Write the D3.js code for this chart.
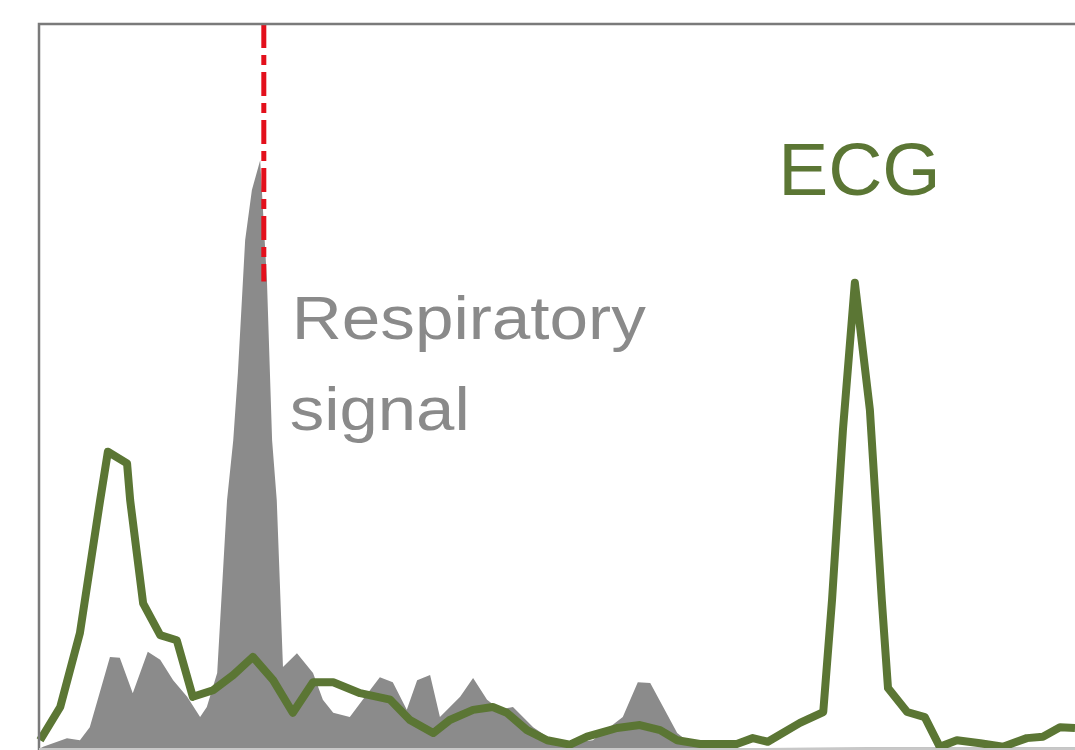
<!DOCTYPE html>
<html>
<head>
<meta charset="utf-8">
<script src="https://cdn.jsdelivr.net/npm/d3@7"></script>
<style>
  body { margin: 0; background: #fff; }
  svg { display: block; }
</style>
</head>
<body>
<svg id="chart" width="1075" height="750"></svg>
<script>

// frequency (Hz) and normalised power
const resp_freq = [0, 0.008, 0.054, 0.079, 0.098, 0.137, 0.156, 0.181, 0.210, 0.234, 0.259, 0.286,
    0.311, 0.324, 0.344, 0.363, 0.375, 0.384, 0.398, 0.411, 0.427, 0.440, 0.450, 0.459, 0.471,
    0.498, 0.529, 0.548, 0.568, 0.600, 0.625, 0.658, 0.683, 0.710, 0.730, 0.755, 0.774, 0.813,
    0.838, 0.865, 0.890, 0.915, 0.954, 0.981, 1.019, 1.069, 1.127, 1.156, 1.180, 1.205, 1.232,
    1.257, 1.295, 1.6, 2.0]
const resp_power = [0, 0.003, 0.015, 0.012, 0.030, 0.127, 0.126, 0.077, 0.134, 0.123, 0.095, 0.072,
    0.044, 0.058, 0.105, 0.343, 0.426, 0.519, 0.702, 0.771, 0.812, 0.647, 0.426, 0.343, 0.113,
    0.132, 0.105, 0.068, 0.050, 0.044, 0.068, 0.099, 0.092, 0.054, 0.095, 0.102, 0.044, 0.072,
    0.098, 0.068, 0.054, 0.058, 0.030, 0.017, 0.008, 0.012, 0.044, 0.092, 0.091, 0.058, 0.022,
    0.008, 0.001, 0.002, 0.002]

const ecg_freq = [0.002, 0.041, 0.079, 0.118, 0.133, 0.170, 0.176, 0.201, 0.234, 0.266, 0.297,
    0.336, 0.375, 0.413, 0.452, 0.490, 0.529, 0.568, 0.620, 0.678, 0.716, 0.761, 0.793, 0.838,
    0.876, 0.903, 0.942, 0.981, 1.025, 1.058, 1.116, 1.160, 1.199, 1.232, 1.276, 1.347, 1.378,
    1.407, 1.469, 1.514, 1.531, 1.552, 1.575, 1.604, 1.627, 1.639, 1.676, 1.710, 1.739, 1.772,
    1.817, 1.861, 1.907, 1.938, 1.971, 2.0]
const ecg_power = [0.012, 0.058, 0.160, 0.343, 0.410, 0.394, 0.343, 0.201, 0.157, 0.150, 0.072,
    0.081, 0.102, 0.127, 0.095, 0.050, 0.092, 0.092, 0.077, 0.068, 0.040, 0.022, 0.040, 0.054,
    0.058, 0.050, 0.026, 0.012, 0.006, 0.017, 0.029, 0.033, 0.026, 0.012, 0.007, 0.007, 0.015,
    0.010, 0.036, 0.051, 0.206, 0.440, 0.643, 0.468, 0.206, 0.084, 0.051, 0.044, 0.003, 0.012,
    0.008, 0.003, 0.015, 0.017, 0.030, 0.029]

const resp_peak = 0.434   // dashed marker
const labels = {resp: ['Respiratory', 'signal'], ecg: 'ECG'}

const fig_margin = {top: 24, right: 0, bottom: 1, left: 39};
const fig_width = 1075 - fig_margin.left - fig_margin.right;
const fig_height = 750 - fig_margin.top - fig_margin.bottom;

const xscale = d3.scaleLinear()
    .range([0, fig_width])
    .domain([0, 2]);
const yscale = d3.scaleLinear()
    .range([fig_height, 0])
    .domain([0, 1]);

const svg = d3.select('#chart')
const fig = svg.append('g')
    .attr('transform', `translate(${fig_margin.left},${fig_margin.top})`)

const resp_data = resp_freq.map((f, i) => ({x: f, y: resp_power[i]}))
const ecg_data = ecg_freq.map((f, i) => ({x: f, y: ecg_power[i]}))

const makearea = d3.area()
    .x(d => xscale(d.x))
    .y0(yscale(0))
    .y1(d => yscale(d.y));

const makeline = d3.line()
    .x(d => xscale(d.x))
    .y(d => yscale(d.y));

fig.append('path')
    .datum(resp_data)
    .attr('fill', '#8b8b8b')
    .attr('d', makearea);

// red marker at the respiratory peak, stops above the label
fig.append('line')
    .attr('x1', xscale(resp_peak)).attr('x2', xscale(resp_peak))
    .attr('y1', 0).attr('y2', yscale(0.645))
    .attr('stroke', '#e3101c')
    .attr('stroke-width', 5)
    .attr('stroke-dasharray', '24,7,10,7');

fig.append('path')
    .datum(ecg_data)
    .attr('fill', 'none')
    .attr('stroke', '#5b7634')
    .attr('stroke-width', 8)
    .attr('stroke-linejoin', 'round')
    .attr('d', makeline);

// frame: only left and top are visible
fig.append('path')
    .attr('d', `M0,${fig_height + 2}V0H${fig_width + 2}`)
    .attr('fill', 'none')
    .attr('stroke', '#7a7a7a')
    .attr('stroke-width', 2.5);

fig.append('line')
    .attr('x1', 0).attr('x2', fig_width)
    .attr('y1', fig_height).attr('y2', fig_height)
    .attr('stroke', '#c8c8c8')
    .attr('stroke-width', 2);

const resp_text = fig.append('text')
    .attr('font-family', 'Liberation Sans, Arial, sans-serif')
    .attr('font-size', 62)
    .attr('fill', '#8a8a8a')
resp_text.append('tspan')
    .attr('x', xscale(0.488)).attr('y', 315)
    .attr('textLength', 354).attr('lengthAdjust', 'spacingAndGlyphs')
    .text(labels.resp[0])
resp_text.append('tspan')
    .attr('x', xscale(0.484)).attr('y', 406)
    .attr('textLength', 180).attr('lengthAdjust', 'spacingAndGlyphs')
    .text(labels.resp[1])

fig.append('text')
    .attr('x', xscale(1.427)).attr('y', 171)
    .attr('font-family', 'Liberation Sans, Arial, sans-serif')
    .attr('font-size', 75)
    .attr('fill', '#5b7634')
    .text(labels.ecg)

</script>
</body>
</html>
